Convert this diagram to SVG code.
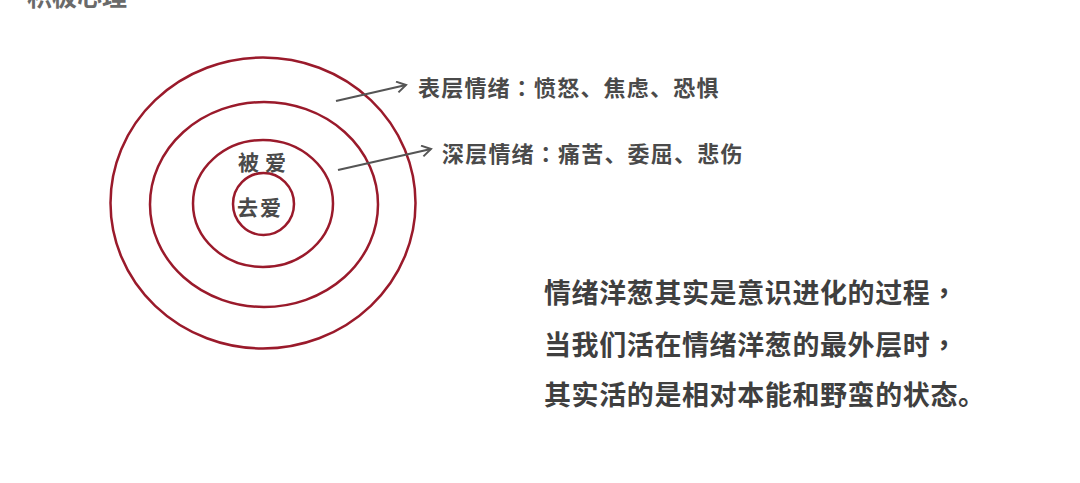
<svg xmlns="http://www.w3.org/2000/svg" width="1080" height="483" viewBox="0 0 1080 483">
  <style>
    text { font-family: "Noto Sans CJK SC", "Noto Sans", sans-serif; font-weight: bold; }
    .p { font-family: "Noto Sans CJK TC", "Noto Sans CJK SC", sans-serif; }
    .ring { fill: none; stroke: #9a1a2b; stroke-width: 2.5; }
    .lbl { font-size: 22px; fill: #4a4a4a; letter-spacing: 1.2px; }
    .para { font-size: 27px; fill: #3f3f3f; letter-spacing: 0.6px; }
    .core { font-size: 21px; fill: #4a4a4a; }
    .arrow { stroke: #555; stroke-width: 2.2; fill: none; }
  </style>
  <defs>
    <marker id="ah" markerWidth="13" markerHeight="13" refX="10" refY="6" orient="auto" markerUnits="userSpaceOnUse">
      <path d="M1,0.5 L10,6 L1,11.5" fill="none" stroke="#555" stroke-width="2"/>
    </marker>
  </defs>
  <rect width="1080" height="483" fill="#ffffff"/>
  <text x="27" y="6" font-size="25" fill="#6a6a6a">积极心理</text>

  <g id="onion">
    <ellipse class="ring" cx="263" cy="203" rx="152.5" ry="145.5"/>
    <ellipse class="ring" cx="264" cy="204.5" rx="114" ry="102.5"/>
    <ellipse class="ring" cx="263" cy="203.5" rx="70" ry="63.5"/>
    <ellipse class="ring" cx="263.5" cy="204" rx="30.5" ry="31"/>
  </g>
  <g id="core-outer">
    <text class="core" x="238" y="170">被<tspan dx="6">爱</tspan></text>
  </g>
  <g id="core-inner">
    <text class="core" x="237" y="215" letter-spacing="2">去爱</text>
  </g>

  <g id="connectors">
    <line class="arrow" x1="336" y1="101" x2="406" y2="85" marker-end="url(#ah)"/>
    <line class="arrow" x1="338" y1="170" x2="431" y2="149" marker-end="url(#ah)"/>
  </g>

  <g id="surface-label">
    <text class="lbl" x="418" y="96">表层情绪<tspan class="p">：</tspan>愤怒、焦虑、恐惧</text>
  </g>
  <g id="deep-label">
    <text class="lbl" x="442" y="162">深层情绪<tspan class="p">：</tspan>痛苦、委屈、悲伤</text>
  </g>

  <g id="paragraph">
    <text class="para" x="544" y="303">情绪洋葱其实是意识进化的过程<tspan class="p">，</tspan></text>
    <text class="para" x="544" y="355">当我们活在情绪洋葱的最外层时<tspan class="p">，</tspan></text>
    <text class="para" x="544" y="405">其实活的是相对本能和野蛮的状态。</text>
  </g>
</svg>
